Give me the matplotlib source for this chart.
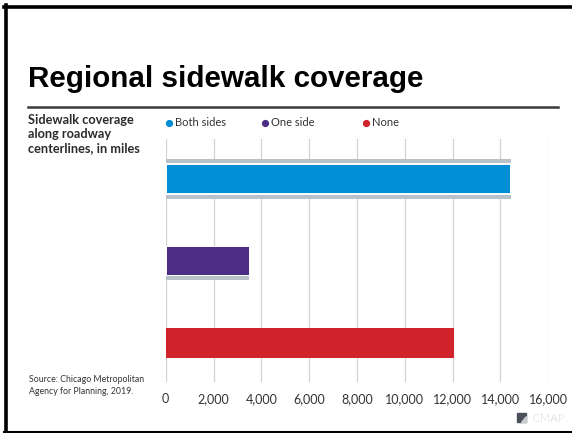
import numpy as np
from matplotlib import pyplot as plt
from matplotlib.patches import Rectangle, Polygon
from matplotlib.lines import Line2D

# values (miles of roadway centerline)
categories = ['Both sides', 'One side', 'None']
miles = [14460, 3470, 12070]
colors = ['#008ed4', '#4b2d84', '#d0232c']
ticks = [0, 2000, 4000, 6000, 8000, 10000, 12000, 14000, 16000]
tick_labels = ['0', '2,000', '4,000', '6,000', '8,000', '10,000', '12,000', '14,000', '16,000']

W, H = 572, 433
fig = plt.figure(figsize=(W / 100, H / 100), dpi=100)

def fx(px):
    return px / W

def fy(py):
    return 1 - py / H

# slide frame (left, top, bottom)
fig.add_artist(Line2D([fx(5.5), fx(5.5)], [fy(5), fy(432)], color='black', lw=2.6))
fig.add_artist(Line2D([fx(4), fx(572)], [fy(6.5), fy(6.5)], color='black', lw=2.6))
fig.add_artist(Line2D([fx(4), fx(572)], [fy(431.5), fy(431.5)], color='black', lw=2.2))

fig.text(fx(28), fy(87), 'Regional sidewalk coverage', fontsize=21.3, fontweight='bold',
         family='Liberation Sans', va='baseline', ha='left', color='black')
fig.add_artist(Line2D([fx(28), fx(558)], [fy(107), fy(107)], color='#3a3a3a', lw=1.8))

fig.text(fx(28), fy(114.5), 'Sidewalk coverage\nalong roadway\ncenterlines, in miles',
         fontsize=9.2, fontweight='bold', family='Lato', color='#2b2b2b',
         va='top', ha='left', linespacing=1.2)

fig.text(fx(29), fy(375.5), 'Source: Chicago Metropolitan\nAgency for Planning, 2019.',
         fontsize=6.3, family='Lato', color='#333333', va='top', ha='left', linespacing=1.35)

# legend
leg_x = [169, 265, 366]
for x, lab, c in zip(leg_x, categories, colors):
    fig.add_artist(Line2D([fx(x)], [fy(122.5)], marker='o', markersize=4.2, color=c, lw=0))
    fig.text(fx(x + 6), fy(122.5), lab, fontsize=8.0, family='Lato', color='#333333',
             va='center', ha='left')

ax = fig.add_axes([fx(165.7), fy(382), fx(548.3) - fx(165.7), fy(139) - fy(382)])
y = np.arange(len(categories))

# grey underlays behind the first two bars
ax.barh(y[0], miles[0], height=0.48, color='#b9c1c9', zorder=2)
ax.barh(y[0], miles[0], height=0.36, color=colors[0], edgecolor='white', linewidth=1.4, zorder=3)
ax.barh(y[1] + 0.06, miles[1], height=0.355, color='#b9c1c9', zorder=2)
ax.barh(y[1], miles[1], height=0.355, color=colors[1], edgecolor='white', linewidth=0.7, zorder=3)
ax.barh(y[2], miles[2], height=0.367, color=colors[2], zorder=3)

ax.set_xlim(0, 16000)
ax.set_ylim(2.48, -0.49)
ax.set_xticks(ticks)
ax.set_xticklabels(tick_labels, family='Lato', fontsize=9.0, color='#333333')
ax.set_yticks([])
ax.grid(axis='x', color='#d2d2d2', lw=0.9, zorder=1)
ax.tick_params(axis='x', length=0, pad=8)
for s in ax.spines.values():
    s.set_visible(False)

# CMAP mark
fig.add_artist(Rectangle((fx(517), fy(422)), fx(9), fy(413) - fy(422), color='#4a4f5a'))
fig.add_artist(Polygon([(fx(521), fy(422)), (fx(526), fy(422)), (fx(526), fy(416))],
                       closed=True, color='#c9cdd3'))
fig.text(fx(532), fy(418), 'CMAP', fontsize=8.4, family='Lato', fontweight='light',
         color='#6a6f78', va='center', ha='left')

plt.savefig('out.png', dpi=100)
